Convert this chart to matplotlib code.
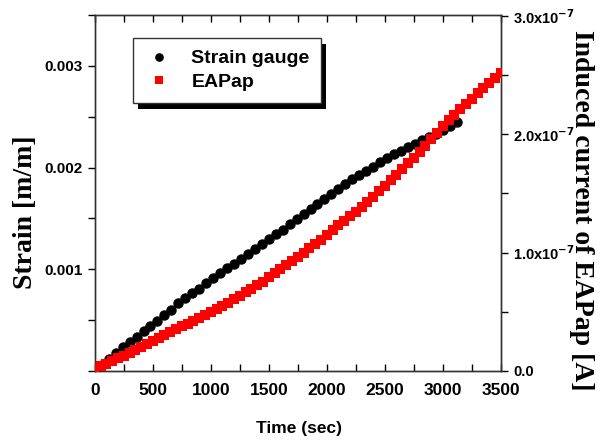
import numpy as np
import matplotlib
matplotlib.use('Agg')
import matplotlib.pyplot as plt
from matplotlib.ticker import MultipleLocator
from matplotlib.patches import Rectangle

# Strain gauge readings (strain in 1e-3 m/m), one every 60 s
t_gauge = np.arange(0, 3180, 60)
strain = np.array([0.00, 0.06, 0.12, 0.18, 0.235, 0.285, 0.335, 0.39, 0.44, 0.495,
                   0.55, 0.60, 0.67, 0.72, 0.77, 0.81, 0.86, 0.91, 0.96, 1.01,
                   1.05, 1.10, 1.15, 1.20, 1.25, 1.30, 1.345, 1.39, 1.44, 1.49,
                   1.54, 1.59, 1.64, 1.69, 1.74, 1.79, 1.84, 1.885, 1.93, 1.97,
                   2.01, 2.05, 2.09, 2.13, 2.165, 2.20, 2.235, 2.27, 2.30, 2.33,
                   2.37, 2.41, 2.45]) * 1e-3

# EAPap induced current (in 1e-7 A), one every 50 s
t_eap = np.arange(0, 3550, 50)
current = np.array([0.02, 0.04, 0.06, 0.085, 0.105, 0.13, 0.155, 0.18, 0.205, 0.23,
                    0.255, 0.28, 0.305, 0.33, 0.355, 0.38, 0.40, 0.425, 0.45, 0.47,
                    0.495, 0.52, 0.55, 0.575, 0.605, 0.635, 0.665, 0.695, 0.725, 0.755,
                    0.79, 0.825, 0.86, 0.895, 0.93, 0.965, 1.00, 1.035, 1.07, 1.11,
                    1.15, 1.19, 1.23, 1.27, 1.31, 1.345, 1.385, 1.43, 1.47, 1.52,
                    1.565, 1.61, 1.66, 1.71, 1.755, 1.80, 1.85, 1.905, 1.96, 2.01,
                    2.07, 2.12, 2.165, 2.21, 2.255, 2.30, 2.345, 2.39, 2.435, 2.48,
                    2.52]) * 1e-7

x_ticks = [0, 500, 1000, 1500, 2000, 2500, 3000, 3500]
left_ticks = [0.001, 0.002, 0.003]
left_labels = ['0.001', '0.002', '0.003']
right_ticks = [0, 1e-7, 2e-7, 3e-7]
right_labels = ['0.0', r'1.0x10$^{\mathbf{-7}}$', r'2.0x10$^{\mathbf{-7}}$', r'3.0x10$^{\mathbf{-7}}$']

sans = 'Liberation Sans'
serif = 'Liberation Serif'

fig = plt.figure(figsize=(6.04, 4.41), dpi=100)
ax = fig.add_axes([0.157, 0.159, 0.672, 0.807])
ax2 = ax.twinx()
# keep the left axes on top so the legend and its shadow sit above everything
ax.set_zorder(2)
ax.patch.set_visible(False)

ax.set_xlim(0, 3500)
ax.set_ylim(0, 0.0035)
ax2.set_ylim(0, 3.0e-7 * 356 / 355)

#black circles on left axis
l1, = ax.plot(t_gauge, strain, 'o', color='black', markersize=6.5, label='Strain gauge', zorder=3)
#red squares in right axis units, drawn above the black ones
l2, = ax.plot(t_eap, current, 's', color='red', markersize=7.5, markeredgewidth=0,
              label='EAPap', transform=ax2.transData, zorder=4)
ax.set_xlim(0, 3500)
ax.set_ylim(0, 0.0035)

ax.set_xticks(x_ticks)
ax.set_xticklabels([str(v) for v in x_ticks], fontfamily=sans, fontweight='bold', fontsize=12.5)
ax.xaxis.set_minor_locator(MultipleLocator(250))
ax.set_yticks(left_ticks)
ax.set_yticklabels(left_labels, fontfamily=sans, fontweight='bold', fontsize=11)
ax.yaxis.set_minor_locator(MultipleLocator(0.0005))
ax2.set_yticks(right_ticks)
ax2.set_yticklabels(right_labels, fontfamily=sans, fontweight='bold', fontsize=10.5)
ax2.yaxis.set_minor_locator(MultipleLocator(0.5e-7))

ax.tick_params(axis='x', which='both', direction='in', top=True, length=5, width=1, pad=9)
ax.tick_params(axis='y', which='both', direction='out', length=5, width=1, pad=3.5)
ax2.tick_params(axis='y', which='both', direction='out', length=5, width=1, pad=4)

for a in (ax, ax2):
    for s in a.spines.values():
        s.set_linewidth(1)
        s.set_color('#333333')

ax.set_xlabel('Time (sec)', fontfamily=sans, fontweight='bold', fontsize=12.5, va='center')
ax.xaxis.set_label_coords(0.502, -0.163)
ax.set_ylabel('Strain [m/m]', fontfamily=serif, fontweight='bold', fontsize=20, va='center')
ax.yaxis.set_label_coords(-0.172, 0.447)
ax2.set_ylabel('Induced current of EAPap [A]', fontfamily=serif, fontweight='bold',
               fontsize=20, rotation=270, va='center')
ax2.yaxis.set_label_coords(1.2, 0.45)

leg = ax.legend(handles=[l1, l2], loc='upper left', bbox_to_anchor=(0.094, 0.935),
                fancybox=False, shadow=False, framealpha=1,
                prop={'family': sans, 'weight': 'bold', 'size': 14},
                handletextpad=0.9, borderpad=0.6, labelspacing=0.3, handlelength=1.5,
                markerscale=0.8, borderaxespad=0)
leg.get_frame().set_edgecolor('#333333')
leg.get_frame().set_linewidth(1)
leg.set_zorder(5)

# solid black drop shadow under the legend box (5 px right, 6 px down)
fig.canvas.draw()
bb = leg.get_frame().get_window_extent().transformed(ax.transAxes.inverted())
dx = 5 / ax.bbox.width
dy = 6 / ax.bbox.height
shadow = Rectangle((bb.x0 + dx, bb.y0 - dy), bb.width, bb.height, transform=ax.transAxes,
                   facecolor='black', edgecolor='none', zorder=4.9, clip_on=False)
ax.add_patch(shadow)

fig.savefig('out.png', dpi=100)
